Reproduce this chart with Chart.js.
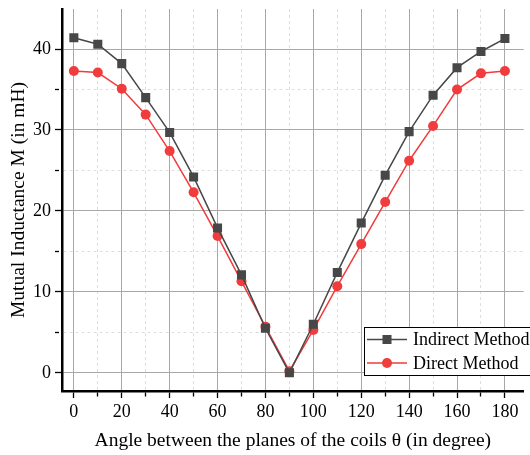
<!DOCTYPE html>
<html><head><meta charset="utf-8">
<script src="https://cdn.jsdelivr.net/npm/chart.js@4.4.1/dist/chart.umd.min.js"></script>
<style>html,body{margin:0;padding:0;background:#fff}#wrap{width:530px;height:455px;position:relative}</style>
</head><body><div id="wrap"><canvas id="c" width="530" height="455"></canvas></div>
<script>
const angles = [0,10,20,30,40,50,60,70,80,90,100,110,120,130,140,150,160,170,180];
const indirectMethod = [41.4,40.6,38.2,34.0,29.7,24.2,17.9,12.1,5.5,0.0,6.0,12.4,18.5,24.4,29.8,34.3,37.7,39.7,41.3];
const directMethod = [37.3,37.1,35.1,31.9,27.4,22.3,16.9,11.3,5.7,0.2,5.3,10.7,15.9,21.1,26.2,30.5,35.0,37.0,37.3];
const seriesNames = ['Indirect Method','Direct Method'];
const xTitle = 'Angle between the planes of the coils \u03B8 (in degree)';
const yTitle = 'Mutual Inductance M (in mH)';

const SERIF = 'Liberation Serif';
const GRAY = '#474747', RED = '#f03c3c';

const legendPlugin = {
  id: 'boxLegend',
  afterDraw(chart) {
    const ctx = chart.ctx;
    const x0 = 364.5, y0 = 327.5, w = 170, h = 48;
    ctx.save();
    ctx.fillStyle = '#fff';
    ctx.fillRect(x0, y0, w, h);
    ctx.strokeStyle = '#000';
    ctx.lineWidth = 1;
    ctx.strokeRect(x0, y0, w, h);
    const rows = [339.5, 363];
    chart.data.datasets.forEach((ds, i) => {
      const cy = rows[i];
      ctx.strokeStyle = ds.borderColor;
      ctx.lineWidth = 1.5;
      ctx.beginPath(); ctx.moveTo(367, cy); ctx.lineTo(407, cy); ctx.stroke();
      ctx.fillStyle = ds.pointBackgroundColor;
      if (ds.pointStyle === 'rect') {
        ctx.fillRect(387 - 4.5, cy - 4.5, 9, 9);
      } else {
        ctx.beginPath(); ctx.arc(387, cy, 5, 0, Math.PI * 2); ctx.fill();
      }
      ctx.fillStyle = '#000';
      ctx.font = '18px "' + SERIF + '"';
      ctx.textBaseline = 'middle';
      ctx.textAlign = 'left';
      ctx.fillText(ds.label, 413, cy + 1);
    });
    ctx.restore();
  }
};

const isMajor = (v, step) => Math.abs(v % step) < 1e-6;

new Chart(document.getElementById('c'), {
  type: 'line',
  data: {
    datasets: [
      {
        label: seriesNames[0],
        data: angles.map((a, i) => ({x: a, y: indirectMethod[i]})),
        borderColor: GRAY, backgroundColor: GRAY,
        pointBackgroundColor: GRAY, pointBorderColor: GRAY,
        pointStyle: 'rect', pointRadius: 6.4, pointBorderWidth: 0,
        borderWidth: 1.5, tension: 0
      },
      {
        label: seriesNames[1],
        data: angles.map((a, i) => ({x: a, y: directMethod[i]})),
        borderColor: RED, backgroundColor: RED,
        pointBackgroundColor: RED, pointBorderColor: RED,
        pointStyle: 'circle', pointRadius: 5, pointBorderWidth: 0,
        borderWidth: 1.5, tension: 0
      }
    ]
  },
  options: {
    responsive: false,
    animation: false,
    devicePixelRatio: 1,
    layout: { padding: { top: 9, right: 0, left: 0, bottom: 0 } },
    plugins: { legend: { display: false }, tooltip: { enabled: false } },
    scales: {
      x: {
        type: 'linear', position: 'bottom',
        min: -4.95, max: 187.8,
        afterFit: s => { s.height = 64; s.paddingLeft = 0; s.paddingRight = 0; },
        ticks: {
          stepSize: 10, includeBounds: false, maxRotation: 0, autoSkip: false,
          callback: v => isMajor(v, 20) ? String(v) : '',
          font: { family: SERIF, size: 18 }, color: '#000', padding: 3
        },
        grid: {
          color: c => isMajor(c.tick.value, 20) ? '#a8a8a8' : '#dedede',
          lineWidth: 1,
          tickColor: '#000', tickLength: 7, tickWidth: 1.3,
          tickBorderDash: c => isMajor(c.tick.value, 20) ? [] : [4, 20]
        },
        border: { color: '#000', width: 2.5, dash: c => (c.tick && !isMajor(c.tick.value, 20)) ? [3, 3] : [] },
        title: { display: true, text: xTitle, font: { family: SERIF, size: 19.5 }, color: '#000', padding: { top: 0, bottom: 2 } }
      },
      y: {
        type: 'linear', position: 'left',
        min: -2.25, max: 44.95,
        afterFit: s => { s.width = 62; s.paddingTop = 0; s.paddingBottom = 0; },
        ticks: {
          stepSize: 5, includeBounds: false, autoSkip: false,
          callback: v => isMajor(v, 10) ? String(v) : '',
          font: { family: SERIF, size: 18 }, color: '#000', padding: 4
        },
        grid: {
          color: c => isMajor(c.tick.value, 10) ? '#a8a8a8' : '#dedede',
          lineWidth: 1,
          tickColor: '#000', tickLength: 7, tickWidth: 1.3,
          tickBorderDash: c => isMajor(c.tick.value, 10) ? [] : [4, 20]
        },
        border: { color: '#000', width: 2.5, dash: c => (c.tick && !isMajor(c.tick.value, 10)) ? [3, 3] : [] },
        title: { display: true, text: yTitle, font: { family: SERIF, size: 19.5 }, color: '#000', padding: { top: 7, bottom: 0 } }
      }
    }
  },
  plugins: [legendPlugin]
});
</script>
</body></html>
